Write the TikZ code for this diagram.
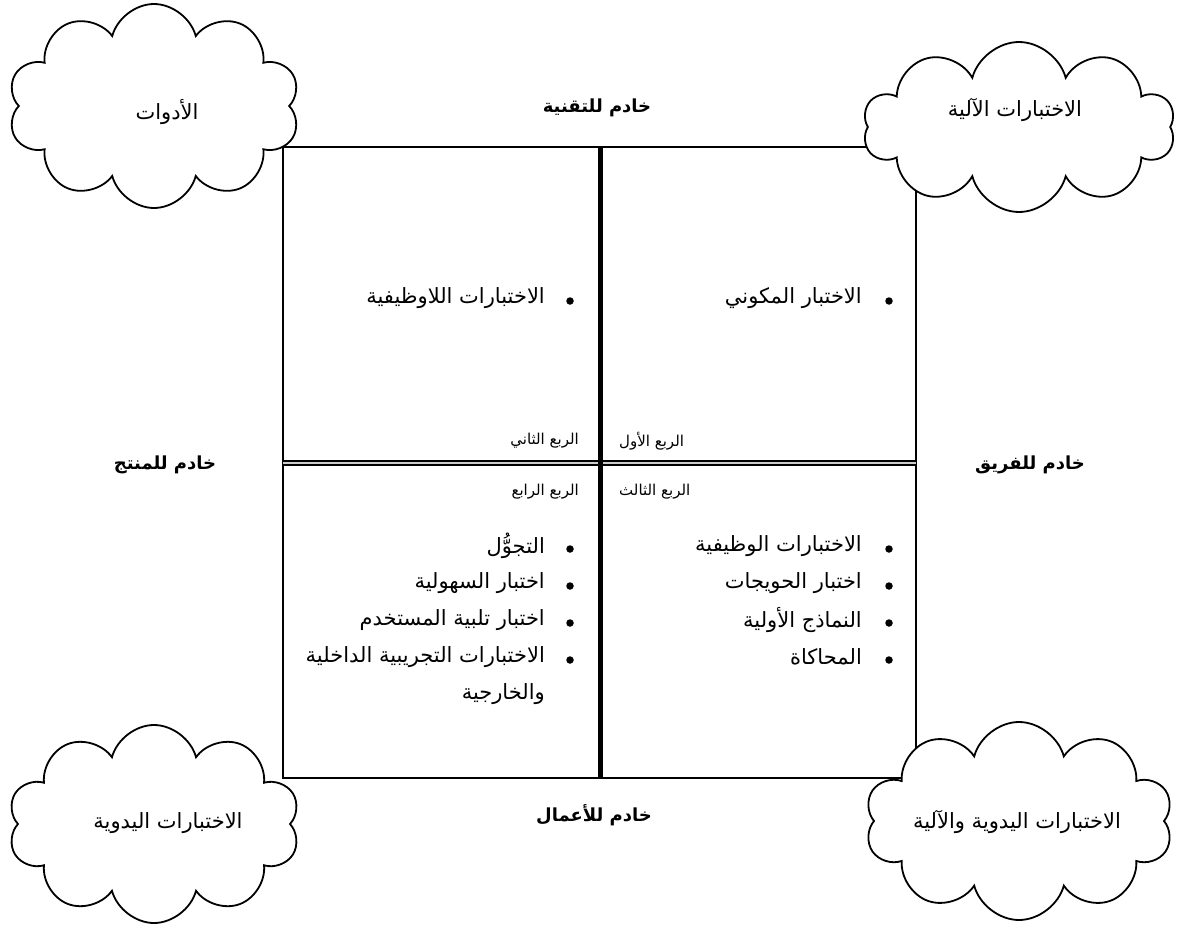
\documentclass[tikz,border=0pt]{standalone}
\usepackage{fontspec}
\usetikzlibrary{shapes.symbols}
\newfontfamily\arabicfont[Script=Arabic]{DejaVu Sans}
\TeXXeTstate=1
\newcommand{\artext}[1]{\beginR #1\endR}
\begin{document}
\begin{tikzpicture}[x=1pt,y=-1pt,
  cloudbox/.style={cloud, cloud puffs=10, cloud ignores aspect, draw=black, fill=white, line width=1.8pt, inner sep=0pt},
  cloudtext/.style={inner sep=0pt, font=\arabicfont\fontsize{21}{25}\selectfont},
  head/.style={inner sep=0pt, font=\arabicfont\fontsize{18}{22}\selectfont\bfseries},
  item/.style={anchor=east, inner sep=0pt, font=\arabicfont\fontsize{21}{25}\selectfont},
  quad/.style={inner sep=0pt, font=\arabicfont\fontsize{15}{18}\selectfont},
  bul/.style={circle, fill=black, inner sep=0pt, minimum size=7.5pt},
  frame/.style={line width=1.8pt}]
\useasboundingbox[fill=white] (0,0) rectangle (1184,926);
% frame
\coordinate (tl) at (283,147);
\coordinate (tr) at (916,147);
\coordinate (br) at (916,778);
\coordinate (bl) at (283,778);
\coordinate (mt) at (600,147);
\coordinate (mb) at (600,778);
\coordinate (ml) at (283,463);
\coordinate (mr) at (916,463);
\draw[frame] (tl) -- (tr) -- (br) -- (bl) -- cycle;
\draw[line width=1.8pt, double=gray!40, double distance=1.6pt] (ml) -- (mr);
\draw[line width=5pt] (mt) -- (mb);
% clouds
\node[cloudbox, minimum width=292, minimum height=204] (c1) at (154,106) {};
\node[cloudbox, minimum width=312, minimum height=170] (c2) at (1019,127) {};
\node[cloudbox, minimum width=292, minimum height=198] (c3) at (154,824) {};
\node[cloudbox, minimum width=308, minimum height=198] (c4) at (1019,821) {};
\node[cloudtext] (c1t) at (167,112) {\artext{الأدوات}};
\node[cloudtext] (c2t) at (1015,110) {\artext{الاختبارات الآلية}};
\node[cloudtext] (c3t) at (168,823) {\artext{الاختبارات اليدوية}};
\node[cloudtext] (c4t) at (1017,822) {\artext{الاختبارات اليدوية والآلية}};
% side labels
\node[head] (ht) at (597,108) {\artext{خادم للتقنية}};
\node[head] (hl) at (165,465) {\artext{خادم للمنتج}};
\node[head] (hr) at (1030,465) {\artext{خادم للفريق}};
\node[head] (hb) at (594,815) {\artext{خادم للأعمال}};
% quadrant labels
\node[quad, anchor=west] (q1) at (619,441) {\artext{الربع الأول}};
\node[quad, anchor=east] (q2) at (579,441) {\artext{الربع الثاني}};
\node[quad, anchor=west] (q3) at (619,492) {\artext{الربع الثالث}};
\node[quad, anchor=east] (q4) at (579,492) {\artext{الربع الرابع}};
% quadrant 1
\node[bul] (b1) at (889,301) {};
\node[item] (t1) at (862,298) {\artext{الاختبار المكوني}};
% quadrant 2
\node[bul] (b2) at (570,301) {};
\node[item] (t2) at (545,298) {\artext{الاختبارات اللاوظيفية}};
% quadrant 3
\node[bul] (b31) at (889,549) {};
\node[item] (t31) at (862,546) {\artext{الاختبارات الوظيفية}};
\node[bul] (b32) at (889,586) {};
\node[item] (t32) at (862,583) {\artext{اختبار الحويجات}};
\node[bul] (b33) at (889,623) {};
\node[item] (t33) at (862,620) {\artext{النماذج الأولية}};
\node[bul] (b34) at (889,660) {};
\node[item] (t34) at (862,657) {\artext{المحاكاة}};
% quadrant 4
\node[bul] (b41) at (570,549) {};
\node[item] (t41) at (545,546) {\artext{التجوُّل}};
\node[bul] (b42) at (570,586) {};
\node[item] (t42) at (545,583) {\artext{اختبار السهولية}};
\node[bul] (b43) at (570,623) {};
\node[item] (t43) at (545,620) {\artext{اختبار تلبية المستخدم}};
\node[bul] (b44) at (570,660) {};
\node[item] (t44) at (545,657) {\artext{الاختبارات التجريبية الداخلية}};
\node[item] (t45) at (545,694) {\artext{والخارجية}};
\end{tikzpicture}
\end{document}
